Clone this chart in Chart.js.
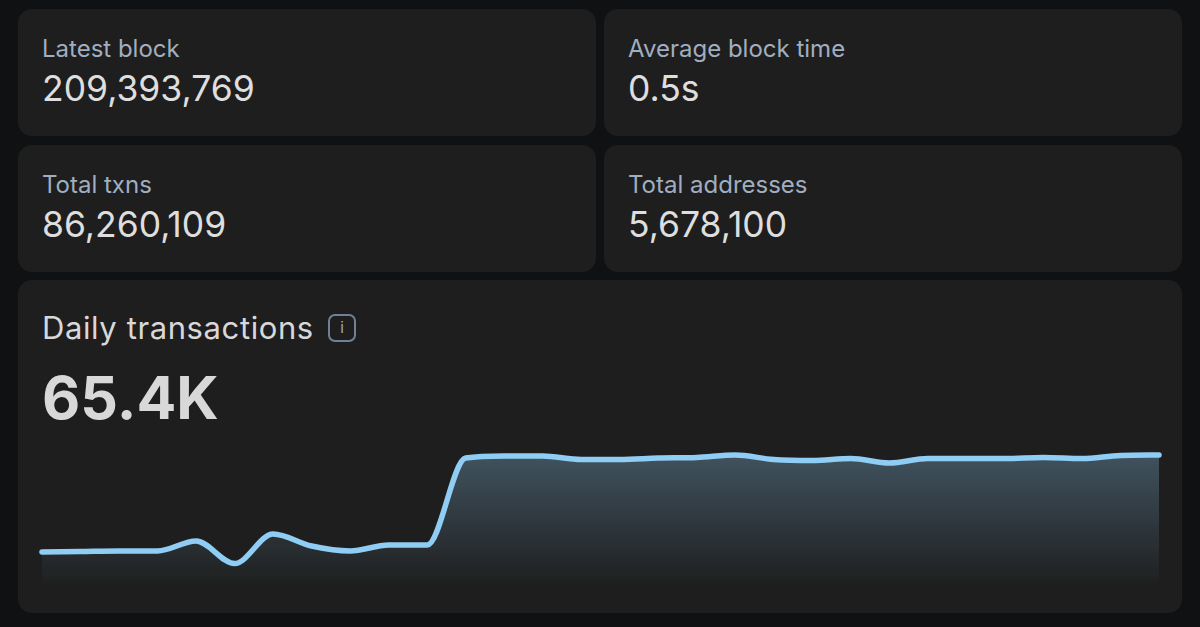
<!DOCTYPE html>
<html>
<head>
<meta charset="utf-8">
<script src="https://cdn.jsdelivr.net/npm/chart.js@4"></script>
<style>
    html, body { margin: 0; width: 1200px; height: 627px; overflow: hidden; background: #0f1113; font-family: Inter, sans-serif; }
    .card { position: absolute; background: #1e1e1e; border-radius: 14px; }
    .small { width: 578px; height: 127px; }
    .label { position: absolute; left: 24px; top: 26px; font-size: 24px; line-height: 28px; color: #a0aec0; white-space: nowrap; }
    .value { position: absolute; left: 24px; top: 59px; font-size: 35.5px; line-height: 42px; color: #dedede; white-space: nowrap; }
    #title { position: absolute; left: 24px; top: 30px; font-size: 31px; line-height: 36px; letter-spacing: 0.6px; color: #d8d8d8; white-space: nowrap; }
    #big { position: absolute; left: 24px; top: 83px; font-size: 59px; line-height: 70px; font-weight: 700; color: #d8d8d8; white-space: nowrap; }
    #info { position: absolute; left: 310px; top: 34px; width: 28px; height: 28px; box-sizing: border-box; border: 2px solid #718096; border-radius: 7px; color: #a0aec0; font-size: 15px; line-height: 24px; text-align: center; }
    #wrap { position: absolute; left: 32px; top: 440px; width: 1137px; height: 150px; }
</style>
</head>
<body>
<div class="card small" style="left:18px;top:9px"><div class="label">Latest block</div><div class="value">209,393,769</div></div>
<div class="card small" style="left:604px;top:9px"><div class="label">Average block time</div><div class="value">0.5s</div></div>
<div class="card small" style="left:18px;top:145px"><div class="label">Total txns</div><div class="value">86,260,109</div></div>
<div class="card small" style="left:604px;top:145px"><div class="label">Total addresses</div><div class="value">5,678,100</div></div>
<div class="card" style="left:18px;top:280px;width:1164px;height:333px">
    <div id="title">Daily transactions</div>
    <div id="info">i</div>
    <div id="big">65.4K</div>
</div>
<div id="wrap"><canvas id="dailyChart"></canvas></div>
<script>
const days = ['1','2','3','4','5','6','7','8','9','10','11','12','13','14','15','16','17','18','19','20','21','22','23','24','25','26','27','28','29','30'];
const txns = [18400,18650,18900,18900,23700,12800,27100,21300,18900,21800,21800,63900,64900,64900,63200,63200,63900,64200,65400,63200,62700,63700,61500,63700,63700,63700,64200,63700,65200,65400];
const yMax = 72660;

const ctx = document.getElementById('dailyChart').getContext('2d');
new Chart(ctx, {
    type: 'line',
    data: {
        labels: days,
        datasets: [{
            label: 'Daily transactions',
            data: txns,
            borderColor: '#90cdf4',
            borderWidth: 5.5,
            borderCapStyle: 'round',
            borderJoinStyle: 'round',
            cubicInterpolationMode: 'monotone',
            pointRadius: 0,
            fill: 'origin',
            backgroundColor: (c) => {
                const area = c.chart.chartArea;
                if (!area) return 'transparent';
                const g = c.chart.ctx.createLinearGradient(0, area.top + 15, 0, area.bottom - 2);
                g.addColorStop(0, 'rgba(144,205,244,0.3)');
                g.addColorStop(1, 'rgba(144,205,244,0)');
                return g;
            },
        }],
    },
    options: {
        responsive: true,
        maintainAspectRatio: false,
        animation: false,
        clip: false,
        layout: { padding: { left: 10, right: 10 } },
        plugins: { legend: { display: false }, tooltip: { enabled: false } },
        scales: {
            x: { display: false },
            y: { display: false, min: 0, max: yMax },
        },
    },
});
</script>
</body>
</html>
